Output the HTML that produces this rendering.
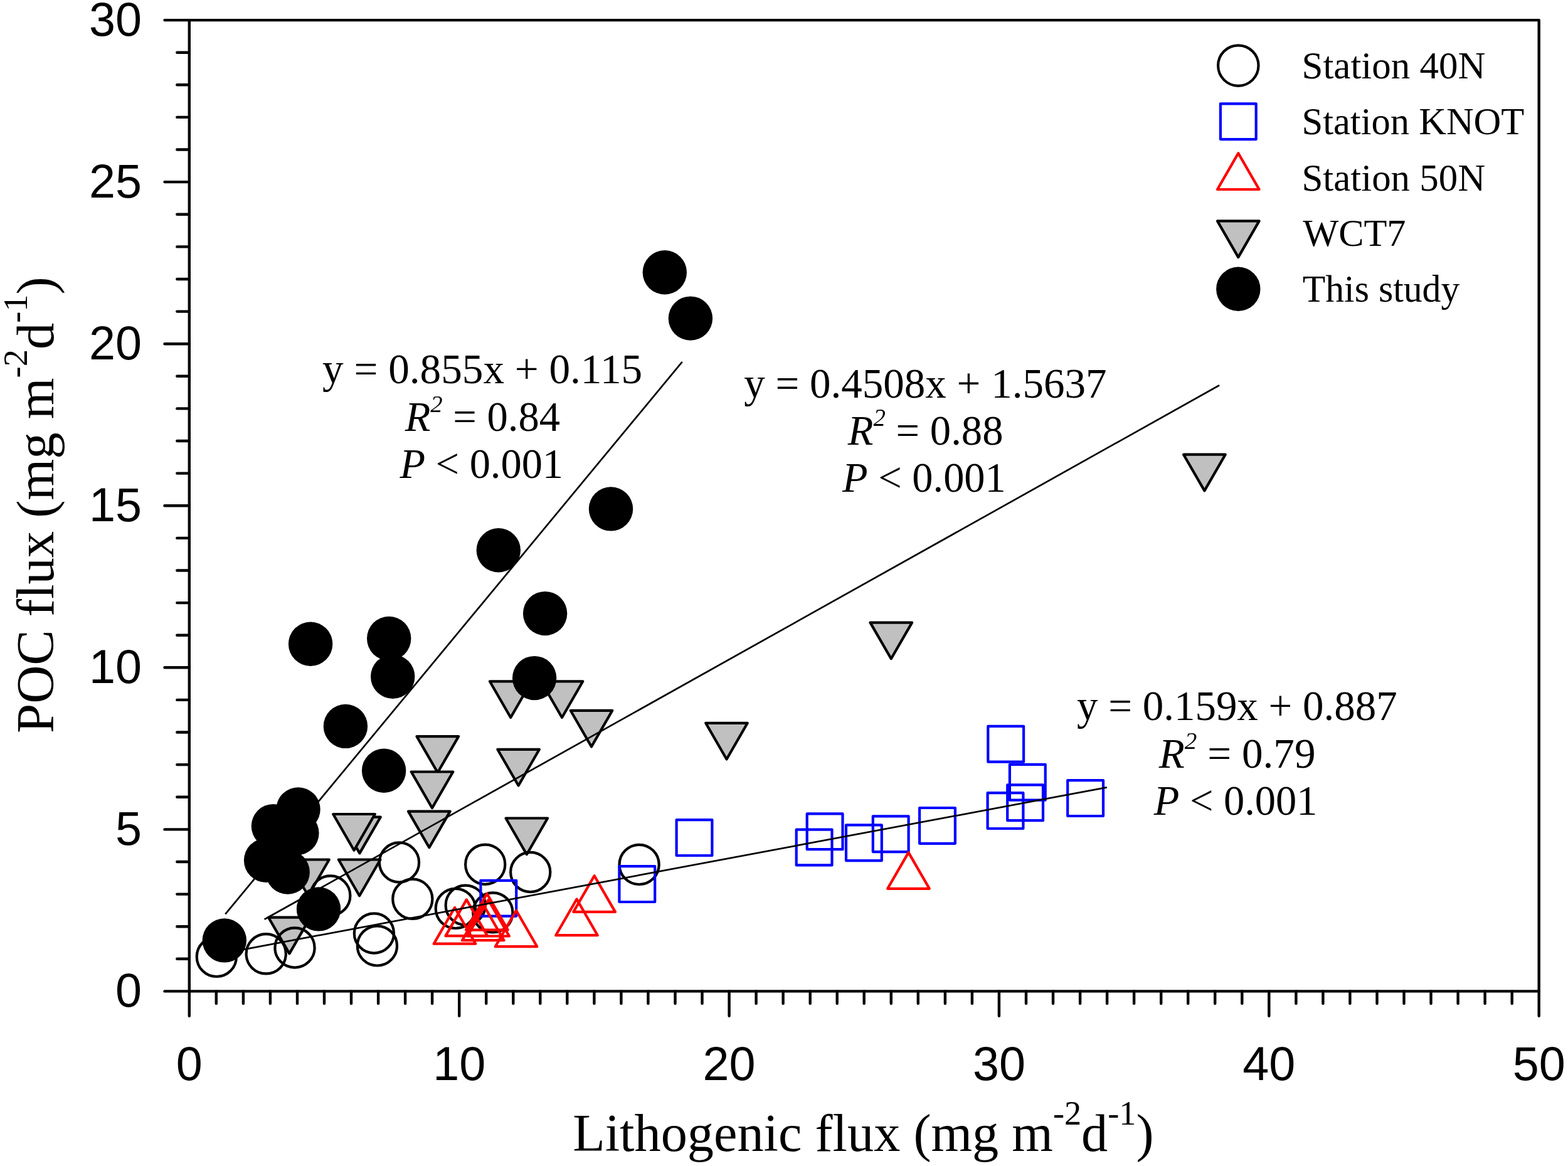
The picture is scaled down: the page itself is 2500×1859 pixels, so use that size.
<!DOCTYPE html><html><head><meta charset="utf-8"><style>html,body{margin:0;padding:0;background:#fff;overflow:hidden;}svg{display:block}</style></head><body>
<svg width="2500" height="1859" viewBox="0 0 2500 1859">
<rect width="2500" height="1859" fill="#fff"/>
<g fill="#c0c0c0" stroke="#000" stroke-width="4.2" stroke-linejoin="round">
<polygon points="1887.1,724.7 1953.7,724.7 1920.4,782.4"/>
<polygon points="1387.5,992.6 1454.1,992.6 1420.8,1050.3"/>
<polygon points="1125.2,1152.8 1191.8,1152.8 1158.5,1210.5"/>
<polygon points="780.9,1086.3 847.5,1086.3 814.2,1144.0"/>
<polygon points="862.7,1086.3 929.3,1086.3 896.0,1144.0"/>
<polygon points="909.7,1132.8 976.3,1132.8 943.0,1190.5"/>
<polygon points="664.5,1174.1 731.1,1174.1 697.8,1231.8"/>
<polygon points="793.3,1194.8 859.9,1194.8 826.6,1252.5"/>
<polygon points="655.7,1230.5 722.3,1230.5 689.0,1288.2"/>
<polygon points="651.0,1293.6 717.6,1293.6 684.3,1351.3"/>
<polygon points="806.5,1304.5 873.1,1304.5 839.8,1362.2"/>
<polygon points="540.1,1302.7 606.7,1302.7 573.4,1360.4"/>
<polygon points="531.2,1298.0 597.8,1298.0 564.5,1355.7"/>
<polygon points="539.8,1370.5 606.4,1370.5 573.1,1428.2"/>
<polygon points="458.2,1370.5 524.8,1370.5 491.5,1428.2"/>
<polygon points="428.1,1462.7 494.7,1462.7 461.4,1520.4"/>
</g>
<g fill="none" stroke="#000" stroke-width="4.2">
<circle cx="345.3" cy="1525.4" r="31.6"/>
<circle cx="424.2" cy="1520.8" r="31.6"/>
<circle cx="470" cy="1511" r="31.6"/>
<circle cx="526.8" cy="1428" r="31.6"/>
<circle cx="596.4" cy="1488" r="31.6"/>
<circle cx="601.4" cy="1507.9" r="31.6"/>
<circle cx="636.5" cy="1375" r="31.6"/>
<circle cx="657.8" cy="1433.3" r="31.6"/>
<circle cx="726.3" cy="1448.4" r="31.6"/>
<circle cx="742.2" cy="1443.2" r="31.6"/>
<circle cx="773.7" cy="1378.2" r="31.6"/>
<circle cx="785.8" cy="1454.9" r="31.6"/>
<circle cx="845.7" cy="1390.5" r="31.6"/>
<circle cx="1019.1" cy="1378.4" r="31.6"/>
</g>
<g fill="none" stroke="#0000ff" stroke-width="4.2" stroke-linejoin="round">
<rect x="766.4" y="1403.8" width="56.8" height="56.8"/>
<rect x="987.4" y="1381.2" width="56.8" height="56.8"/>
<rect x="1078.6" y="1307.2" width="56.8" height="56.8"/>
<rect x="1269.7" y="1322.6" width="56.8" height="56.8"/>
<rect x="1286.7" y="1297.4" width="56.8" height="56.8"/>
<rect x="1349.0" y="1315.3" width="56.8" height="56.8"/>
<rect x="1391.8" y="1301.3" width="56.8" height="56.8"/>
<rect x="1466.1" y="1288.0" width="56.8" height="56.8"/>
<rect x="1575.3" y="1157.9" width="56.8" height="56.8"/>
<rect x="1609.9" y="1218.9" width="56.8" height="56.8"/>
<rect x="1606.2" y="1251.4" width="56.8" height="56.8"/>
<rect x="1574.6" y="1264.2" width="56.8" height="56.8"/>
<rect x="1702.2" y="1244.2" width="56.8" height="56.8"/>
</g>
<g fill="none" stroke="#ff0000" stroke-width="4.2" stroke-linejoin="round">
<polygon points="691.7,1504.7 758.3,1504.7 725.0,1447.0"/>
<polygon points="710.5,1492.1 777.1,1492.1 743.8,1434.4"/>
<polygon points="743.1,1482.6 809.7,1482.6 776.4,1424.9"/>
<polygon points="736.9,1499.2 803.5,1499.2 770.2,1441.5"/>
<polygon points="745.3,1492.5 811.9,1492.5 778.6,1434.8"/>
<polygon points="789.7,1509.2 856.3,1509.2 823.0,1451.5"/>
<polygon points="886.2,1491.2 952.8,1491.2 919.5,1433.5"/>
<polygon points="914.3,1453.9 980.9,1453.9 947.6,1396.2"/>
<polygon points="1415.2,1416.8 1481.8,1416.8 1448.5,1359.1"/>
</g>
<g fill="#000">
<circle cx="1059.8" cy="434.3" r="35.2"/>
<circle cx="1100.9" cy="507.6" r="35.2"/>
<circle cx="974" cy="811.4" r="35.2"/>
<circle cx="794.8" cy="877.3" r="35.2"/>
<circle cx="869.1" cy="978.1" r="35.2"/>
<circle cx="495.1" cy="1026.7" r="35.2"/>
<circle cx="620.2" cy="1018" r="35.2"/>
<circle cx="626.2" cy="1078.7" r="35.2"/>
<circle cx="852.1" cy="1081.1" r="35.2"/>
<circle cx="550.9" cy="1157.9" r="35.2"/>
<circle cx="612.1" cy="1228.8" r="35.2"/>
<circle cx="475.5" cy="1290.4" r="35.2"/>
<circle cx="435.9" cy="1317.1" r="35.2"/>
<circle cx="473.4" cy="1328.2" r="35.2"/>
<circle cx="424.1" cy="1371.7" r="35.2"/>
<circle cx="458.7" cy="1390.6" r="35.2"/>
<circle cx="508" cy="1449.4" r="35.2"/>
<circle cx="357.8" cy="1499.4" r="35.2"/>
</g>
<g stroke="#000" stroke-width="2.7" fill="none">
<line x1="359.3" y1="1457.3" x2="1087.7" y2="576.9"/>
<line x1="421.6" y1="1465.8" x2="1944.1" y2="614.3"/>
<line x1="355" y1="1520.1" x2="1764.8" y2="1255.3"/>
</g>
<g stroke="#000" stroke-width="4.4" stroke-linecap="round" fill="none">
<path d="M301.8,32.1 H2453.7 V1580.4 H301.8 Z" stroke-linejoin="round"/>
<line x1="262.5" y1="1580.4" x2="301.8" y2="1580.4"/>
<line x1="282.3" y1="1528.8" x2="301.8" y2="1528.8"/>
<line x1="282.3" y1="1477.2" x2="301.8" y2="1477.2"/>
<line x1="282.3" y1="1425.6" x2="301.8" y2="1425.6"/>
<line x1="282.3" y1="1374.0" x2="301.8" y2="1374.0"/>
<line x1="262.5" y1="1322.4" x2="301.8" y2="1322.4"/>
<line x1="282.3" y1="1270.7" x2="301.8" y2="1270.7"/>
<line x1="282.3" y1="1219.1" x2="301.8" y2="1219.1"/>
<line x1="282.3" y1="1167.5" x2="301.8" y2="1167.5"/>
<line x1="282.3" y1="1115.9" x2="301.8" y2="1115.9"/>
<line x1="262.5" y1="1064.3" x2="301.8" y2="1064.3"/>
<line x1="282.3" y1="1012.7" x2="301.8" y2="1012.7"/>
<line x1="282.3" y1="961.1" x2="301.8" y2="961.1"/>
<line x1="282.3" y1="909.5" x2="301.8" y2="909.5"/>
<line x1="282.3" y1="857.9" x2="301.8" y2="857.9"/>
<line x1="262.5" y1="806.2" x2="301.8" y2="806.2"/>
<line x1="282.3" y1="754.6" x2="301.8" y2="754.6"/>
<line x1="282.3" y1="703.0" x2="301.8" y2="703.0"/>
<line x1="282.3" y1="651.4" x2="301.8" y2="651.4"/>
<line x1="282.3" y1="599.8" x2="301.8" y2="599.8"/>
<line x1="262.5" y1="548.2" x2="301.8" y2="548.2"/>
<line x1="282.3" y1="496.6" x2="301.8" y2="496.6"/>
<line x1="282.3" y1="445.0" x2="301.8" y2="445.0"/>
<line x1="282.3" y1="393.4" x2="301.8" y2="393.4"/>
<line x1="282.3" y1="341.8" x2="301.8" y2="341.8"/>
<line x1="262.5" y1="290.1" x2="301.8" y2="290.1"/>
<line x1="282.3" y1="238.5" x2="301.8" y2="238.5"/>
<line x1="282.3" y1="186.9" x2="301.8" y2="186.9"/>
<line x1="282.3" y1="135.3" x2="301.8" y2="135.3"/>
<line x1="282.3" y1="83.7" x2="301.8" y2="83.7"/>
<line x1="262.5" y1="32.1" x2="301.8" y2="32.1"/>
<line x1="301.8" y1="1580.4" x2="301.8" y2="1619.7"/>
<line x1="344.8" y1="1580.4" x2="344.8" y2="1599.9"/>
<line x1="387.9" y1="1580.4" x2="387.9" y2="1599.9"/>
<line x1="430.9" y1="1580.4" x2="430.9" y2="1599.9"/>
<line x1="474.0" y1="1580.4" x2="474.0" y2="1599.9"/>
<line x1="517.0" y1="1580.4" x2="517.0" y2="1599.9"/>
<line x1="560.0" y1="1580.4" x2="560.0" y2="1599.9"/>
<line x1="603.1" y1="1580.4" x2="603.1" y2="1599.9"/>
<line x1="646.1" y1="1580.4" x2="646.1" y2="1599.9"/>
<line x1="689.1" y1="1580.4" x2="689.1" y2="1599.9"/>
<line x1="732.2" y1="1580.4" x2="732.2" y2="1619.7"/>
<line x1="775.2" y1="1580.4" x2="775.2" y2="1599.9"/>
<line x1="818.3" y1="1580.4" x2="818.3" y2="1599.9"/>
<line x1="861.3" y1="1580.4" x2="861.3" y2="1599.9"/>
<line x1="904.3" y1="1580.4" x2="904.3" y2="1599.9"/>
<line x1="947.4" y1="1580.4" x2="947.4" y2="1599.9"/>
<line x1="990.4" y1="1580.4" x2="990.4" y2="1599.9"/>
<line x1="1033.4" y1="1580.4" x2="1033.4" y2="1599.9"/>
<line x1="1076.5" y1="1580.4" x2="1076.5" y2="1599.9"/>
<line x1="1119.5" y1="1580.4" x2="1119.5" y2="1599.9"/>
<line x1="1162.6" y1="1580.4" x2="1162.6" y2="1619.7"/>
<line x1="1205.6" y1="1580.4" x2="1205.6" y2="1599.9"/>
<line x1="1248.6" y1="1580.4" x2="1248.6" y2="1599.9"/>
<line x1="1291.7" y1="1580.4" x2="1291.7" y2="1599.9"/>
<line x1="1334.7" y1="1580.4" x2="1334.7" y2="1599.9"/>
<line x1="1377.7" y1="1580.4" x2="1377.7" y2="1599.9"/>
<line x1="1420.8" y1="1580.4" x2="1420.8" y2="1599.9"/>
<line x1="1463.8" y1="1580.4" x2="1463.8" y2="1599.9"/>
<line x1="1506.9" y1="1580.4" x2="1506.9" y2="1599.9"/>
<line x1="1549.9" y1="1580.4" x2="1549.9" y2="1599.9"/>
<line x1="1592.9" y1="1580.4" x2="1592.9" y2="1619.7"/>
<line x1="1636.0" y1="1580.4" x2="1636.0" y2="1599.9"/>
<line x1="1679.0" y1="1580.4" x2="1679.0" y2="1599.9"/>
<line x1="1722.1" y1="1580.4" x2="1722.1" y2="1599.9"/>
<line x1="1765.1" y1="1580.4" x2="1765.1" y2="1599.9"/>
<line x1="1808.1" y1="1580.4" x2="1808.1" y2="1599.9"/>
<line x1="1851.2" y1="1580.4" x2="1851.2" y2="1599.9"/>
<line x1="1894.2" y1="1580.4" x2="1894.2" y2="1599.9"/>
<line x1="1937.2" y1="1580.4" x2="1937.2" y2="1599.9"/>
<line x1="1980.3" y1="1580.4" x2="1980.3" y2="1599.9"/>
<line x1="2023.3" y1="1580.4" x2="2023.3" y2="1619.7"/>
<line x1="2066.4" y1="1580.4" x2="2066.4" y2="1599.9"/>
<line x1="2109.4" y1="1580.4" x2="2109.4" y2="1599.9"/>
<line x1="2152.4" y1="1580.4" x2="2152.4" y2="1599.9"/>
<line x1="2195.5" y1="1580.4" x2="2195.5" y2="1599.9"/>
<line x1="2238.5" y1="1580.4" x2="2238.5" y2="1599.9"/>
<line x1="2281.5" y1="1580.4" x2="2281.5" y2="1599.9"/>
<line x1="2324.6" y1="1580.4" x2="2324.6" y2="1599.9"/>
<line x1="2367.6" y1="1580.4" x2="2367.6" y2="1599.9"/>
<line x1="2410.7" y1="1580.4" x2="2410.7" y2="1599.9"/>
<line x1="2453.7" y1="1580.4" x2="2453.7" y2="1619.7"/>
</g>
<g font-family="Liberation Sans, Arial, sans-serif" font-size="75.5" fill="#000">
<text x="225.9" y="1605.0" text-anchor="end">0</text>
<text x="225.9" y="1347.0" text-anchor="end">5</text>
<text x="225.9" y="1088.9" text-anchor="end">10</text>
<text x="225.9" y="830.9" text-anchor="end">15</text>
<text x="225.9" y="572.8" text-anchor="end">20</text>
<text x="225.9" y="314.7" text-anchor="end">25</text>
<text x="225.9" y="56.7" text-anchor="end">30</text>
<text x="301.8" y="1722.2" text-anchor="middle">0</text>
<text x="732.2" y="1722.2" text-anchor="middle">10</text>
<text x="1162.6" y="1722.2" text-anchor="middle">20</text>
<text x="1592.9" y="1722.2" text-anchor="middle">30</text>
<text x="2023.3" y="1722.2" text-anchor="middle">40</text>
<text x="2453.7" y="1722.2" text-anchor="middle">50</text>
</g>
<text transform="translate(913.13,1834.5) scale(0.9863,1)" x="0" y="0" font-family="Liberation Serif, Times New Roman, serif" font-size="85.5" fill="#000">Lithogenic flux (mg m<tspan font-size="55" dy="-42">-2</tspan><tspan dy="42">d</tspan><tspan font-size="55" dy="-42">-1</tspan><tspan dy="42">)</tspan></text>
<text transform="translate(85.3,1166.9) rotate(-90) translate(-1.98,0) scale(0.9897,1)" x="0" y="0" font-family="Liberation Serif, Times New Roman, serif" font-size="85.5" fill="#000">POC flux (mg m<tspan font-size="55" dy="-42">-2</tspan><tspan dy="42">d</tspan><tspan font-size="55" dy="-42">-1</tspan><tspan dy="42">)</tspan></text>
<text transform="translate(514.1,610.8) scale(1.003,1)" x="0" y="0" font-family="Liberation Serif, Times New Roman, serif" font-size="67" fill="#000">y = 0.855x + 0.115</text>
<text transform="translate(645.7,686.7) scale(0.9935,1)" x="0" y="0" font-family="Liberation Serif, Times New Roman, serif" font-size="67" fill="#000"><tspan font-style="italic">R</tspan><tspan font-style="italic" font-size="39" dy="-30">2</tspan><tspan dy="30"> = 0.84</tspan></text>
<text transform="translate(637.4,762.2) scale(0.9915,1)" x="0" y="0" font-family="Liberation Serif, Times New Roman, serif" font-size="67" fill="#000"><tspan font-style="italic">P</tspan> &lt; 0.001</text>
<text transform="translate(1186.3,633.9) scale(1.0002,1)" x="0" y="0" font-family="Liberation Serif, Times New Roman, serif" font-size="67" fill="#000">y = 0.4508x + 1.5637</text>
<text transform="translate(1351.8,708.8) scale(0.9951,1)" x="0" y="0" font-family="Liberation Serif, Times New Roman, serif" font-size="67" fill="#000"><tspan font-style="italic">R</tspan><tspan font-style="italic" font-size="39" dy="-30">2</tspan><tspan dy="30"> = 0.88</tspan></text>
<text transform="translate(1343.1,784.4) scale(0.9915,1)" x="0" y="0" font-family="Liberation Serif, Times New Roman, serif" font-size="67" fill="#000"><tspan font-style="italic">P</tspan> &lt; 0.001</text>
<text transform="translate(1717.0,1148.3) scale(0.9996,1)" x="0" y="0" font-family="Liberation Serif, Times New Roman, serif" font-size="67" fill="#000">y = 0.159x + 0.887</text>
<text transform="translate(1847.8,1223.6) scale(1.0033,1)" x="0" y="0" font-family="Liberation Serif, Times New Roman, serif" font-size="67" fill="#000"><tspan font-style="italic">R</tspan><tspan font-style="italic" font-size="39" dy="-30">2</tspan><tspan dy="30"> = 0.79</tspan></text>
<text transform="translate(1839.8,1299.1) scale(0.9915,1)" x="0" y="0" font-family="Liberation Serif, Times New Roman, serif" font-size="67" fill="#000"><tspan font-style="italic">P</tspan> &lt; 0.001</text>
<text transform="translate(2075.54,124.7) scale(0.991,1)" x="0" y="0" font-family="Liberation Serif, Times New Roman, serif" font-size="61.5" fill="#000">Station 40N</text>
<text transform="translate(2075.46,214.1) scale(0.9848,1)" x="0" y="0" font-family="Liberation Serif, Times New Roman, serif" font-size="61.5" fill="#000">Station KNOT</text>
<text transform="translate(2075.44,303.6) scale(0.9907,1)" x="0" y="0" font-family="Liberation Serif, Times New Roman, serif" font-size="61.5" fill="#000">Station 50N</text>
<text transform="translate(2077.2,391.7) scale(0.9819,1)" x="0" y="0" font-family="Liberation Serif, Times New Roman, serif" font-size="61.5" fill="#000">WCT7</text>
<text transform="translate(2076.73,481.2) scale(0.9716,1)" x="0" y="0" font-family="Liberation Serif, Times New Roman, serif" font-size="61.5" fill="#000">This study</text>
<g>
<circle cx="1974.3" cy="104.6" r="32.2" fill="none" stroke="#000" stroke-width="4.2"/>
<rect x="1945.9" y="165.3" width="56.8" height="56.8" fill="none" stroke="#0000ff" stroke-width="4.2" stroke-linejoin="round"/>
<polygon points="1941.0,302.0 2007.6,302.0 1974.3,244.3" fill="none" stroke="#ff0000" stroke-width="4.2" stroke-linejoin="round"/>
<polygon points="1941.0,352.4 2007.6,352.4 1974.3,410.1" fill="#c0c0c0" stroke="#000" stroke-width="4.2" stroke-linejoin="round"/>
<circle cx="1974.3" cy="460.8" r="35.2" fill="#000"/>
</g>
</svg></body></html>
